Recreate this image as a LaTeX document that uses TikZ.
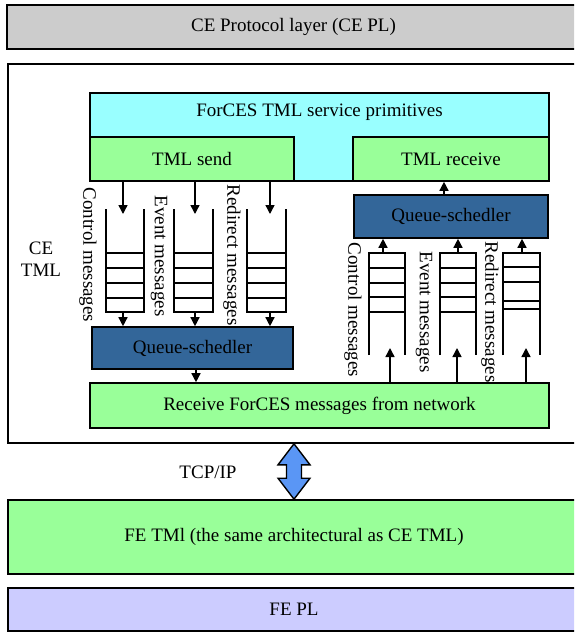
\documentclass[tikz,border=0pt]{standalone}
\usepackage{fontspec}
\setmainfont{Liberation Serif}
\usetikzlibrary{arrows.meta,calc}
\definecolor{plgray}{RGB}{204,204,204}
\definecolor{primcyan}{RGB}{153,255,255}
\definecolor{tmlgreen}{RGB}{153,255,153}
\definecolor{schblue}{RGB}{51,102,153}
\definecolor{feplblue}{RGB}{204,204,255}
\definecolor{tcpblue}{RGB}{90,150,245}

\begin{document}
\begin{tikzpicture}[x=1pt,y=-1pt,
  txt/.style={font=\fontsize{19}{22}\selectfont},
  box/.style={draw=black, line width=1.6pt, inner sep=0pt, txt},
  queue/.style={line width=1.4pt},
  flow/.style={line width=1.4pt, -{Triangle[length=9pt,width=9pt]}},
  vlabel/.style={rotate=-90, inner sep=0pt, txt},
]
\clip (0,0) rectangle (574,632);
\fill[white] (0,0) rectangle (574,632);

% layer boxes
\node[box, fill=plgray, minimum width=573pt, minimum height=44pt] (cepl) at (293.5,27) {CE Protocol layer (CE PL)};
\node[box, fill=white, minimum width=572pt, minimum height=379pt] (cetml) at (294,253.5) {};
\node[txt, align=center, inner sep=0pt, font=\fontsize{19}{22}\selectfont] (cetmllabel) at (41,259) {CE\\TML};

% service primitives with send / receive
\node[box, fill=primcyan, minimum width=459pt, minimum height=88pt] (prim) at (319.5,137) {};
\node[txt, inner sep=0pt] (primlabel) at (319.5,112) {ForCES TML service primitives};
\node[box, fill=tmlgreen, minimum width=204pt, minimum height=44pt] (send) at (192,159) {TML send};
\node[box, fill=tmlgreen, minimum width=196pt, minimum height=44pt] (recv) at (451,159) {TML receive};

% schedulers and network box
\node[box, fill=schblue, minimum width=194pt, minimum height=43pt] (schR) at (451,216.5) {Queue-schedler};
\node[box, fill=schblue, minimum width=201pt, minimum height=42pt] (schL) at (192.5,348) {Queue-schedler};
\node[box, fill=tmlgreen, minimum width=459pt, minimum height=45pt] (net) at (319.5,405.5) {Receive ForCES messages from network};

% FE side
\node[box, fill=tmlgreen, minimum width=572pt, minimum height=74pt] (fetml) at (294,537) {FE TMl (the same architectural as CE TML)};
\node[box, fill=feplblue, minimum width=572pt, minimum height=43pt] (fepl) at (294,609.5) {FE PL};

% sending queues (open at the top)
\foreach \xa/\xb in {106/144, 174/213, 247/286} {
  \draw[queue] (\xa,209) -- (\xa,312) -- (\xb,312) -- (\xb,209);
  \foreach \y in {253,268,283,298}
    \draw[queue] (\xa,\y) -- (\xb,\y);
}
% receiving queues (open at the bottom)
\foreach \xa/\xb in {369/405, 440/476} {
  \draw[queue] (\xa,355) -- (\xa,253) -- (\xb,253) -- (\xb,355);
  \foreach \y in {268,283,297,312}
    \draw[queue] (\xa,\y) -- (\xb,\y);
}
\draw[queue] (503,355) -- (503,253) -- (540,253) -- (540,355);
\foreach \y in {267,282,301,309}
  \draw[queue] (503,\y) -- (540,\y);

% send path
\foreach \x [count=\i] in {123,195,270} {
  \coordinate (qLtop\i) at (\x,214);
  \coordinate (qLbot\i) at (\x,312);
  \draw[flow] (send.south -| qLtop\i) -- (qLtop\i);
  \draw[flow] (qLbot\i) -- (schL.north -| qLbot\i);
}
\coordinate (schLout) at (196,369);
\draw[flow] (schL.south -| schLout) -- (net.north -| schLout);

% receive path
\foreach \x [count=\i] in {383,458,522} {
  \coordinate (qRtop\i) at (\x,253);
  \draw[flow] (qRtop\i) -- (schR.south -| qRtop\i);
}
\foreach \x [count=\i] in {390,457,526} {
  \coordinate (qRin\i) at (\x,348);
  \draw[flow] (net.north -| qRin\i) -- (qRin\i);
}
\coordinate (schRout) at (444,195);
\draw[flow] (schR.north -| schRout) -- (recv.south -| schRout);

% queue labels
\node[vlabel] (lblLc) at (88,255) {Control messages};
\node[vlabel] (lblLe) at (159,256) {Event messages};
\node[vlabel] (lblLr) at (232,255) {Redirect messages};
\node[vlabel] (lblRc) at (353,310) {Control messages};
\node[vlabel] (lblRe) at (424,312) {Event messages};
\node[vlabel] (lblRr) at (490,312) {Redirect messages};

% TCP/IP link
\filldraw[fill=tcpblue, draw=black, line width=1.4pt, line join=miter]
  (cetml.south) -- ++(16,21) -- ++(-8.5,0) -- ++(0,13.4) -- ++(8.5,0)
  -- (fetml.north) -- ++(-16,-21) -- ++(8.5,0) -- ++(0,-13.4) -- ++(-8.5,0) -- cycle;
\node[txt, inner sep=0pt] (tcplabel) at (208,472) {TCP/IP};
\end{tikzpicture}
\end{document}
